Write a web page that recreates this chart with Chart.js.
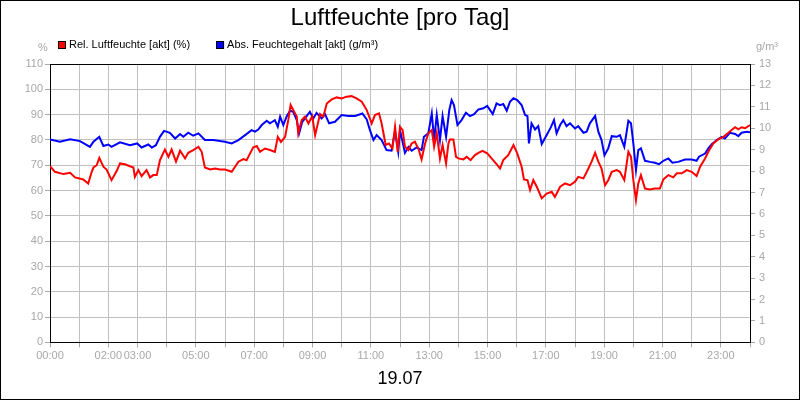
<!DOCTYPE html>
<html>
<head>
<meta charset="utf-8">
<script src="https://cdn.jsdelivr.net/npm/chart.js@4.4.0/dist/chart.umd.min.js"></script>
<style>
  html, body { margin: 0; padding: 0; background: #fff; }
</style>
</head>
<body>
<canvas id="chart" width="800" height="400"></canvas>
<script>
// time of day in hours
const relTimes = [0, 0.17, 0.46, 0.69, 0.86, 1.14, 1.31, 1.43, 1.49, 1.60, 1.69, 1.83, 1.94, 2.11, 2.29, 2.40, 2.57, 2.74, 2.86, 2.91, 3.03, 3.14, 3.31, 3.43, 3.54, 3.66, 3.77, 3.94, 4.06, 4.17, 4.32, 4.46, 4.63, 4.74, 4.91, 5.09, 5.20, 5.31, 5.49, 5.66, 5.83,
  6.0, 6.23, 6.46, 6.63, 6.74, 6.86, 6.97, 7.09, 7.2, 7.37, 7.54, 7.71, 7.81, 7.92, 8.06, 8.17, 8.25, 8.34, 8.46, 8.51, 8.63, 8.74, 8.86, 8.99, 9.09, 9.26, 9.37, 9.49, 9.66, 9.83, 10.0, 10.17, 10.34, 10.51, 10.69, 10.86, 11.03, 11.14, 11.28, 11.37, 11.51, 11.62, 11.74, 11.83, 11.92,
  12.0, 12.09, 12.17, 12.29, 12.4, 12.51, 12.63, 12.74, 12.86, 12.97, 13.09, 13.17, 13.26, 13.37, 13.46, 13.58, 13.66, 13.71, 13.83, 13.92, 14.0, 14.17, 14.29, 14.42, 14.57, 14.69, 14.83, 14.99, 15.14, 15.31, 15.43, 15.54, 15.71, 15.89, 16.02, 16.17, 16.25, 16.37, 16.46, 16.57, 16.69, 16.86, 17.03, 17.2, 17.31, 17.49, 17.66, 17.83,
  18.0, 18.11, 18.29, 18.46, 18.57, 18.69, 18.8, 18.91, 19.03, 19.14, 19.26, 19.43, 19.54, 19.69, 19.83, 19.92, 20.0, 20.09, 20.17, 20.26, 20.4, 20.57, 20.74, 20.91, 21.03, 21.2, 21.37, 21.49, 21.66, 21.83, 22.0, 22.17, 22.29, 22.46, 22.57, 22.74, 22.91, 23.09, 23.26, 23.37, 23.49, 23.6, 23.71, 23.83, 24.0];
const relValues = [69.6, 67.4, 66.5, 67.0, 65.2, 64.4, 62.8, 67.4, 69.1, 70.0, 72.9, 69.4, 68.3, 64.1, 67.8, 70.7, 70.4, 69.6, 69.1, 65.4, 68.1, 65.7, 68.1, 65.2, 66.1, 66.1, 72.0, 76.2, 73.3, 76.2, 71.4, 75.7, 72.7, 74.9, 76.0, 77.3, 75.3, 69.1, 68.3, 68.7, 68.3,
  68.3, 67.4, 71.4, 72.4, 72.0, 74.7, 77.1, 77.6, 75.3, 76.6, 76.0, 75.3, 81.2, 79.2, 81.2, 87.9, 93.8, 91.8, 89.2, 82.6, 87.9, 89.2, 86.5, 89.4, 81.9, 90.2, 89.2, 94.4, 96.0, 96.8, 96.4, 97.1, 97.3, 96.4, 95.1, 91.8, 86.5, 89.8, 90.5, 86.5, 78.0, 78.6, 76.6, 85.2, 75.3,
  85.2, 83.9, 77.3, 76.0, 78.6, 79.3, 76.6, 72.3, 78.6, 82.6, 83.9, 77.3, 82.6, 72.7, 78.0, 70.7, 78.6, 80.2, 80.2, 73.3, 72.7, 72.3, 73.3, 72.0, 74.0, 74.9, 75.7, 74.7, 72.7, 70.4, 68.7, 72.0, 74.0, 78.0, 74.7, 69.4, 64.4, 64.1, 60.2, 64.1, 61.5, 56.9, 58.8, 59.5, 57.5, 61.5, 62.8, 62.1,
  63.5, 65.4, 64.8, 68.7, 71.4, 74.9, 71.4, 68.7, 62.1, 64.1, 67.4, 68.1, 67.4, 64.1, 75.3, 73.3, 64.1, 56.2, 62.8, 66.1, 60.8, 60.4, 60.8, 60.8, 64.4, 66.1, 65.2, 66.8, 66.8, 68.1, 67.4, 65.7, 69.4, 72.7, 75.3, 78.6, 80.2, 81.2, 82.8, 83.9, 85.0, 84.2, 85.0, 84.6, 85.9];

const absTimes = [0, 0.34, 0.69, 1.03, 1.37, 1.49, 1.69, 1.83, 2.0, 2.11, 2.4, 2.74, 2.99, 3.14, 3.37, 3.49, 3.63, 3.77, 3.91, 4.11, 4.29, 4.46, 4.57, 4.74, 4.91, 5.09, 5.31, 5.6, 5.83,
  6.0, 6.23, 6.46, 6.69, 6.91, 7.03, 7.14, 7.26, 7.43, 7.54, 7.71, 7.81, 7.89, 8.0, 8.11, 8.23, 8.34, 8.46, 8.54, 8.65, 8.8, 8.91, 9.03, 9.14, 9.31, 9.43, 9.57, 9.77, 10.0, 10.23, 10.46, 10.71, 10.86, 10.97, 11.09, 11.2, 11.37, 11.54, 11.71, 11.83, 11.94,
  12.0, 12.17, 12.29, 12.4, 12.57, 12.74, 12.82, 12.97, 13.09, 13.17, 13.26, 13.37, 13.46, 13.58, 13.69, 13.77, 13.85, 13.97, 14.11, 14.26, 14.4, 14.54, 14.69, 14.86, 14.99, 15.18, 15.31, 15.43, 15.54, 15.66, 15.77, 15.89, 16.02, 16.17, 16.29, 16.37, 16.42, 16.51, 16.63, 16.74, 16.86, 17.03, 17.17, 17.28, 17.37, 17.49, 17.6, 17.71, 17.83,
  18.0, 18.11, 18.29, 18.4, 18.51, 18.69, 18.8, 18.91, 19.01, 19.14, 19.26, 19.43, 19.54, 19.69, 19.83, 19.92, 20.0, 20.09, 20.17, 20.26, 20.4, 20.57, 20.74, 20.88, 21.03, 21.2, 21.34, 21.54, 21.77, 22.0, 22.17, 22.25, 22.46, 22.57, 22.69, 22.86, 23.03, 23.14, 23.31, 23.49, 23.6, 23.71, 23.89, 24.0];
const absValues = [9.48, 9.37, 9.49, 9.40, 9.13, 9.37, 9.60, 9.17, 9.24, 9.13, 9.34, 9.21, 9.29, 9.10, 9.24, 9.10, 9.21, 9.60, 9.88, 9.79, 9.52, 9.73, 9.60, 9.79, 9.65, 9.76, 9.45, 9.45, 9.40,
  9.37, 9.29, 9.45, 9.68, 9.91, 9.84, 9.94, 10.15, 10.35, 10.23, 10.38, 10.07, 10.54, 10.15, 10.54, 10.82, 10.77, 10.38, 9.76, 10.30, 10.57, 10.77, 10.46, 10.72, 10.46, 10.66, 10.23, 10.30, 10.62, 10.57, 10.57, 10.69, 10.41, 9.91, 9.45, 9.68, 9.45, 8.98, 8.95, 9.88, 8.90,
  9.91, 8.85, 9.13, 8.95, 9.10, 8.98, 9.60, 9.76, 10.69, 9.45, 10.62, 9.45, 10.57, 9.60, 10.85, 11.32, 11.08, 10.15, 10.38, 10.72, 10.57, 10.66, 10.88, 10.93, 11.04, 10.66, 11.16, 11.08, 11.13, 10.82, 11.24, 11.40, 11.32, 11.08, 10.62, 10.57, 9.29, 10.23, 9.94, 10.10, 9.26, 9.68, 10.04, 10.38, 9.76, 10.15, 10.38, 10.10, 10.23,
  9.99, 10.10, 9.79, 9.84, 10.23, 10.57, 9.84, 9.45, 8.74, 9.06, 9.63, 9.60, 9.68, 9.13, 10.35, 10.23, 9.29, 8.04, 8.98, 9.06, 8.48, 8.43, 8.39, 8.32, 8.48, 8.59, 8.39, 8.43, 8.54, 8.54, 8.48, 8.67, 8.82, 9.06, 9.26, 9.45, 9.60, 9.52, 9.79, 9.73, 9.63, 9.79, 9.84, 9.81];

const labeledHours = [0, 2, 3, 5, 7, 9, 11, 13, 15, 17, 19, 21, 23];

const FONT = '"Liberation Sans", Arial, sans-serif';
const TICK_GREY = '#a8a8a8';

const framePlugin = {
  id: 'frame',
  beforeDraw(chart) {
    const ctx = chart.ctx;
    ctx.save();
    ctx.fillStyle = '#fff';
    ctx.fillRect(0, 0, chart.width, chart.height);
    ctx.restore();
  },
  afterDraw(chart) {
    const ctx = chart.ctx;
    const a = chart.chartArea;
    ctx.save();
    // top edge of plot box
    ctx.strokeStyle = '#000';
    ctx.lineWidth = 1;
    ctx.beginPath();
    ctx.moveTo(a.left, Math.round(a.top) + 0.5);
    ctx.lineTo(a.right, Math.round(a.top) + 0.5);
    ctx.stroke();
    // outer frame
    ctx.strokeRect(0.5, 0.5, chart.width - 1, chart.height - 1);

    // legend
    ctx.font = '11px ' + FONT;
    ctx.textBaseline = 'middle';
    let x = 58;
    chart.data.datasets.forEach(ds => {
      ctx.fillStyle = ds.borderColor;
      ctx.fillRect(x, 41, 8, 8);
      ctx.strokeStyle = '#000';
      ctx.strokeRect(x + 0.5, 41.5, 7, 7);
      ctx.fillStyle = '#000';
      ctx.fillText(ds.label, x + 11, 45);
      x += 11 + ctx.measureText(ds.label).width + 26;
    });

    // unit labels
    ctx.fillStyle = TICK_GREY;
    ctx.textAlign = 'center';
    ctx.fillText('%', 43, 48);
    ctx.fillText('g/m³', 767, 47);
    ctx.restore();
  }
};

new Chart(document.getElementById('chart'), {
  type: 'line',
  data: {
    datasets: [{
      label: 'Rel. Luftfeuchte [akt] (%)',
      data: relTimes.map((t, i) => ({ x: t, y: relValues[i] })),
      borderColor: '#ff0000',
      backgroundColor: '#ff0000',
      borderWidth: 2,
      pointRadius: 0,
      yAxisID: 'y'
    }, {
      label: 'Abs. Feuchtegehalt [akt] (g/m³)',
      data: absTimes.map((t, i) => ({ x: t, y: absValues[i] })),
      borderColor: '#0000ff',
      backgroundColor: '#0000ff',
      borderWidth: 2,
      pointRadius: 0,
      yAxisID: 'y1'
    }]
  },
  options: {
    responsive: false,
    animation: false,
    layout: { padding: 0 },
    plugins: {
      legend: { display: false },
      tooltip: { enabled: false },
      title: {
        display: true,
        text: 'Luftfeuchte [pro Tag]',
        color: '#000',
        font: { family: FONT, size: 24, weight: 'normal' },
        padding: { top: 4, bottom: 31.2 }
      },
      subtitle: {
        display: true,
        position: 'bottom',
        text: '19.07',
        color: '#000',
        font: { family: FONT, size: 18, weight: 'normal' },
        padding: { top: 4, bottom: 10 }
      }
    },
    scales: {
      x: {
        type: 'linear',
        min: 0,
        max: 24,
        afterFit: s => { s.height = 22; },
        ticks: {
          stepSize: 1,
          autoSkip: false,
          maxRotation: 0,
          padding: 2,
          color: TICK_GREY,
          font: { family: FONT, size: 11 },
          callback: v => labeledHours.includes(v) ? String(v).padStart(2, '0') + ':00' : ''
        },
        grid: { color: '#c0c0c0', tickColor: TICK_GREY, tickLength: 5 },
        border: { color: '#000', width: 1 }
      },
      y: {
        position: 'left',
        min: 0,
        max: 110,
        afterFit: s => { s.width = 50; },
        ticks: {
          stepSize: 10,
          padding: 2,
          color: TICK_GREY,
          font: { family: FONT, size: 11 }
        },
        grid: { color: '#c0c0c0', tickColor: TICK_GREY, tickLength: 5 },
        border: { color: '#000', width: 1 }
      },
      y1: {
        position: 'right',
        min: 0,
        max: 13,
        afterFit: s => { s.width = 50; },
        ticks: {
          stepSize: 1,
          padding: 4,
          color: TICK_GREY,
          font: { family: FONT, size: 11 }
        },
        grid: { drawOnChartArea: false, tickColor: TICK_GREY, tickLength: 5 },
        border: { color: '#000', width: 1 }
      }
    }
  },
  plugins: [framePlugin]
});
</script>
</body>
</html>
